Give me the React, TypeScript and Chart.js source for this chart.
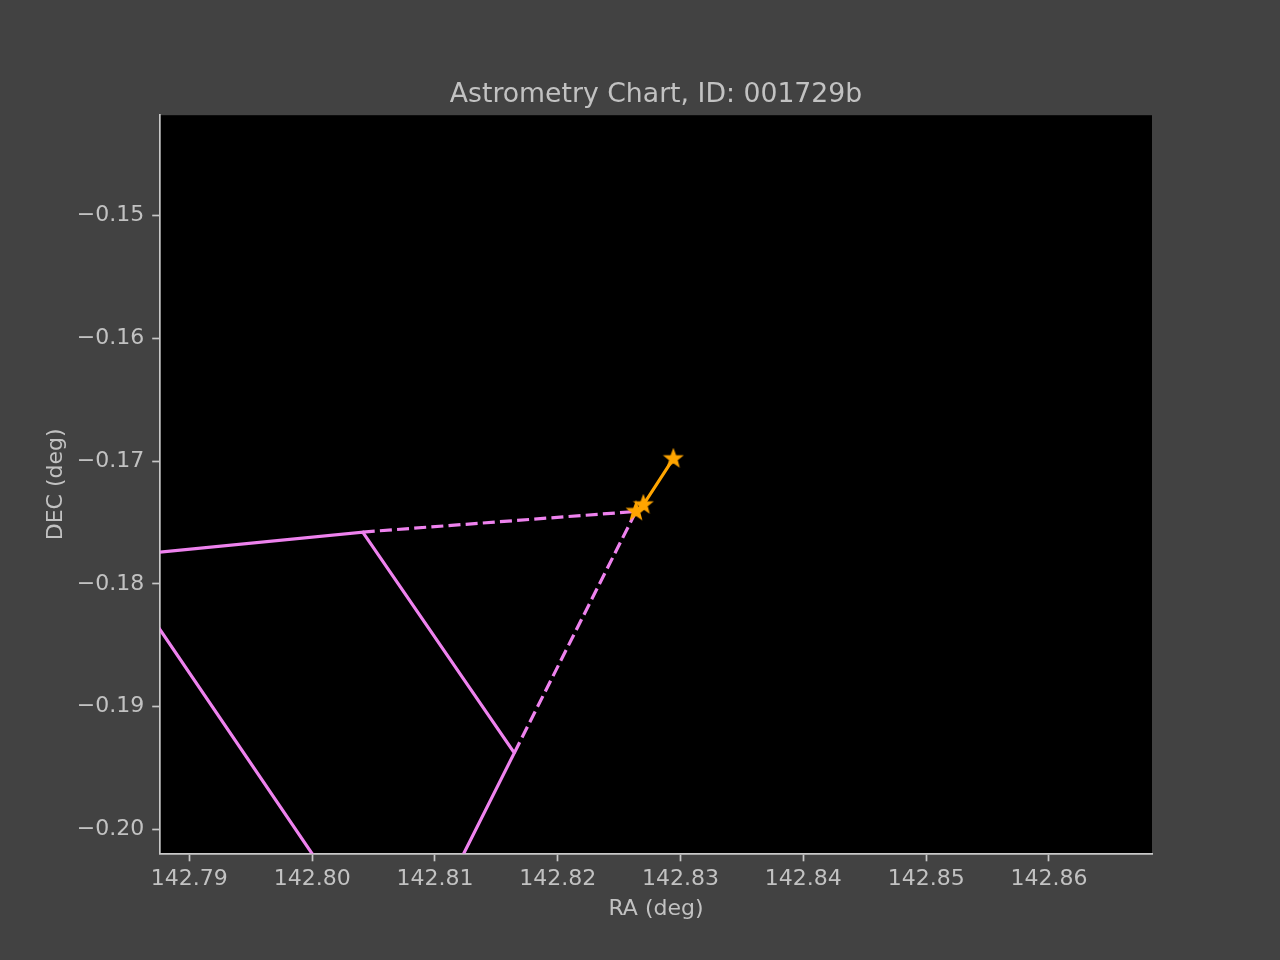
import React, { useEffect, useRef } from "react";
import { Chart, registerables } from "chart.js";

Chart.register(...registerables);

const TITLE = "Astrometry Chart, ID: 001729b";
const X_LABEL = "RA (deg)";
const Y_LABEL = "DEC (deg)";

const X_RANGE = [142.78761, 142.86839];
const Y_RANGE = [-0.20195, -0.14184];
const X_TICKS = [142.79, 142.8, 142.81, 142.82, 142.83, 142.84, 142.85, 142.86];
const Y_TICKS = [-0.2, -0.19, -0.18, -0.17, -0.16, -0.15];

// Footprint outline corners (closed polygon)
const footprintRA = [142.7836, 142.80412, 142.81646, 142.80709, 142.7836];
const footprintDEC = [-0.17782, -0.17578, -0.19376, -0.21241, -0.17782];

// Target track
const trackRA = [142.82941, 142.82697, 142.82637];
const trackDEC = [-0.16981, -0.17356, -0.1741];

// Corners joined to the target by dashed lines
const linkRA = [142.80412, 142.81646];
const linkDEC = [-0.17578, -0.19376];

const BG = "#424242";
const FG = "#c2c2c2";
const SPINE = "#c8c8c8";
const VIOLET = "#ee82ee";
const ORANGE = "#ffa500";
const FONT = "'DejaVu Sans', sans-serif";

function makeStar(color: string, r: number): HTMLCanvasElement {
  const size = 22;
  const c = document.createElement("canvas");
  c.width = size;
  c.height = size;
  const ctx = c.getContext("2d")!;
  ctx.beginPath();
  for (let i = 0; i < 10; i++) {
    const rad = i % 2 === 0 ? r : r * 0.42;
    const a = -Math.PI / 2 + (i * Math.PI) / 5;
    const px = size / 2 + rad * Math.cos(a);
    const py = size / 2 + rad * Math.sin(a);
    if (i === 0) ctx.moveTo(px, py);
    else ctx.lineTo(px, py);
  }
  ctx.closePath();
  ctx.fillStyle = color;
  ctx.fill();
  ctx.strokeStyle = color;
  ctx.lineWidth = 1.4;
  ctx.stroke();
  return c;
}

const pts = (xs: number[], ys: number[]) => xs.map((x, i) => ({ x, y: ys[i] }));

const fmtX = (v: number) => v.toFixed(2);
const fmtY = (v: number) => (v < 0 ? "\u2212" : "") + Math.abs(v).toFixed(2);

export default function App() {
  const ref = useRef<HTMLCanvasElement | null>(null);

  useEffect(() => {
    if (!ref.current) return;
    const star = makeStar(ORANGE, 9);
    const last = trackRA.length - 1;
    const target = { x: trackRA[last], y: trackDEC[last] };

    const bgPlugin = {
      id: "bgPlugin",
      beforeDraw(chart: any) {
        const { ctx, chartArea } = chart;
        ctx.save();
        ctx.fillStyle = BG;
        ctx.fillRect(0, 0, chart.width, chart.height);
        ctx.fillStyle = "#000000";
        ctx.fillRect(chartArea.left, chartArea.top, chartArea.right - chartArea.left, chartArea.bottom - chartArea.top);
        ctx.restore();
      },
      afterDraw(chart: any) {
        const { ctx, chartArea } = chart;
        ctx.save();
        ctx.fillStyle = FG;
        ctx.font = `26.7px ${FONT}`;
        ctx.textAlign = "center";
        ctx.textBaseline = "alphabetic";
        ctx.fillText(TITLE, (chartArea.left + chartArea.right) / 2, 101.7);
        ctx.restore();
      },
    };

    const chart = new Chart(ref.current, {
      type: "scatter",
      data: {
        datasets: [
          {
            data: pts(trackRA, trackDEC),
            showLine: true,
            borderColor: ORANGE,
            backgroundColor: ORANGE,
            borderWidth: 3.2,
            pointStyle: star as any,
            pointRadius: 9,
            order: 0,
          },
          {
            data: pts(footprintRA, footprintDEC),
            showLine: true,
            borderColor: VIOLET,
            borderWidth: 3.2,
            pointRadius: 0,
            clip: 0,
            order: 2,
          },
          ...linkRA.map((x, i) => ({
            data: [{ x, y: linkDEC[i] }, target],
            showLine: true,
            borderColor: VIOLET,
            borderWidth: 3.2,
            borderDash: [12, 5.2],
            pointRadius: 0,
            clip: 0,
            order: 1,
          })),
        ],
      },
      options: {
        responsive: false,
        animation: false,
        devicePixelRatio: 1,
        layout: { padding: { top: 115.2, right: 128, left: 0, bottom: 0 } },
        plugins: {
          legend: { display: false },
          tooltip: { enabled: false },
          title: { display: false },
        },
        scales: {
          x: {
            type: "linear",
            min: X_RANGE[0],
            max: X_RANGE[1],
            afterBuildTicks: (s: any) => {
              s.ticks = X_TICKS.map((value) => ({ value }));
            },
            afterFit: (s: any) => {
              s.height = 106.5;
            },
            ticks: {
              color: FG,
              font: { family: FONT, size: 22 },
              padding: 5,
              maxRotation: 0,
              autoSkip: false,
              includeBounds: false,
              callback: (v: any) => fmtX(Number(v)),
            },
            grid: {
              display: true,
              drawOnChartArea: false,
              drawTicks: true,
              tickLength: 7.8,
              tickColor: SPINE,
              tickWidth: 1.7,
            },
            border: { display: true, color: SPINE, width: 1.7 },
            title: {
              display: true,
              text: X_LABEL,
              color: FG,
              font: { family: FONT, size: 22 },
              padding: { top: 0, bottom: 38 },
            },
          },
          y: {
            type: "linear",
            min: Y_RANGE[0],
            max: Y_RANGE[1],
            afterBuildTicks: (s: any) => {
              s.ticks = Y_TICKS.map((value) => ({ value }));
            },
            afterFit: (s: any) => {
              s.width = 160;
            },
            ticks: {
              color: FG,
              font: { family: FONT, size: 22 },
              padding: 8,
              autoSkip: false,
              includeBounds: false,
              callback: (v: any) => fmtY(Number(v)),
            },
            grid: {
              display: true,
              drawOnChartArea: false,
              drawTicks: true,
              tickLength: 7.8,
              tickColor: SPINE,
              tickWidth: 1.7,
            },
            border: { display: true, color: SPINE, width: 1.7 },
            title: {
              display: true,
              text: Y_LABEL,
              color: FG,
              font: { family: FONT, size: 22 },
              padding: { top: 43, bottom: 0 },
            },
          },
        },
      } as any,
      plugins: [bgPlugin],
    });

    return () => chart.destroy();
  }, []);

  return (
    <div style={{ position: "absolute", left: 0, top: 0, width: 1280, height: 960, background: BG }}>
      <canvas ref={ref} width={1280} height={960} style={{ display: "block", width: 1280, height: 960 }} />
    </div>
  );
}
